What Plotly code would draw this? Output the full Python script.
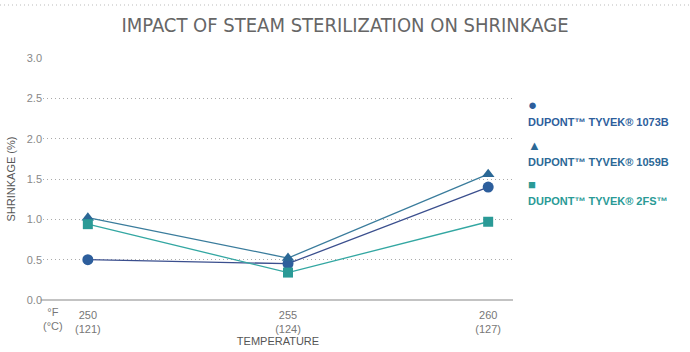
import plotly.graph_objects as go

temps_f = [250, 255, 260]
temps_c = [121, 124, 127]
series_names = ["DUPONT™ TYVEK® 1073B", "DUPONT™ TYVEK® 1059B", "DUPONT™ TYVEK® 2FS™"]
vals_1073b = [0.50, 0.45, 1.40]
vals_1059b = [1.02, 0.52, 1.56]
vals_2fs = [0.94, 0.34, 0.97]
y_ticks = [0.0, 0.5, 1.0, 1.5, 2.0, 2.5, 3.0]

marker_colors = ["#2d5e9c", "#2b6896", "#2a9a96"]
line_colors = ["#3b4f8e", "#3a7c9c", "#33a7a2"]
symbols = ["circle", "triangle-up", "square"]
glyphs = ["●", "▲", "■"]
glyph_sizes = [15, 13, 13]
all_vals = [vals_1073b, vals_1059b, vals_2fs]

fig = go.Figure()
for name, vals, mc, lc, sym in zip(series_names, all_vals, marker_colors, line_colors, symbols):
    fig.add_trace(go.Scatter(
        x=temps_f, y=vals, mode="lines+markers", name=name,
        line=dict(color=lc, width=1.3),
        marker=dict(symbol=sym, size=11 if sym != "square" else 10, color=mc),
        showlegend=False,
    ))

L, R, T, B = 43, 177, 58, 52
W, H = 690, 352
ph = H - T - B
pw = W - L - R

fig.update_layout(
    width=W, height=H,
    margin=dict(l=L, r=R, t=T, b=B, autoexpand=False),
    paper_bgcolor="white", plot_bgcolor="white",
    font=dict(family="Liberation Sans, Arial, sans-serif", color="#777", size=11),
    title=dict(text="IMPACT OF STEAM STERILIZATION ON SHRINKAGE",
               font=dict(family="Liberation Sans Narrow, DejaVu Sans Condensed, Liberation Sans, sans-serif", size=20, color="#666"),
               x=0.5, xref="container", xanchor="center", y=1 - 25 / H, yanchor="middle"),
    xaxis=dict(
        range=[248.88, 260.62], tickmode="array", tickvals=temps_f,
        ticktext=[f"{f}<br>({c})" for f, c in zip(temps_f, temps_c)],
        showgrid=False, zeroline=False, showline=False, ticks="",
        ticklabelstandoff=7, automargin=False,
        tickfont=dict(size=11, color="#777"),
        title=dict(text="TEMPERATURE", font=dict(size=11, color="#555"), standoff=3),
    ),
    yaxis=dict(
        range=[0, 3.0], tickmode="array", tickvals=y_ticks,
        ticktext=[f"{v:.1f}" for v in y_ticks],
        showgrid=True, gridcolor="#aaaaaa", griddash="1px,3px", gridwidth=1,
        zeroline=False, showline=False, ticks="", automargin=False,
        tickfont=dict(size=11, color="#888"),
        title=dict(text="SHRINKAGE (%)", font=dict(size=11, color="#555"), standoff=8),
    ),
)

# baseline axis line
fig.add_shape(type="line", xref="paper", yref="paper", x0=-0.005, x1=1, y0=0, y1=0,
              line=dict(color="#888", width=1.2))
# top dotted rule
fig.add_shape(type="line", xref="paper", yref="paper", x0=-L / pw, x1=1 + R / pw,
              y0=1 + (T - 5) / ph, y1=1 + (T - 5) / ph,
              line=dict(color="#bbb", width=1, dash="1px,3px"))
# °F / (°C) label
fig.add_annotation(text="°F<br>(°C)", xref="paper", yref="paper",
                   x=(53 - L) / pw, y=0, yanchor="top", xanchor="center",
                   yshift=-4, showarrow=False, font=dict(size=11, color="#777"))

# custom legend: marker above text
leg_x = (526 - L) / pw
marker_y = [104, 145, 184]
text_y = [122, 162, 201]
for name, mc, g, gs, my, ty in zip(series_names, marker_colors, glyphs, glyph_sizes, marker_y, text_y):
    fig.add_annotation(text=g, xref="paper", yref="paper", x=leg_x, y=1 - (my - T) / ph,
                       xanchor="left", yanchor="middle", showarrow=False,
                       font=dict(size=gs, color=mc))
    fig.add_annotation(text=f"<b>{name}</b>", xref="paper", yref="paper", x=leg_x, y=1 - (ty - T) / ph,
                       xanchor="left", yanchor="middle", showarrow=False,
                       font=dict(size=11, color=mc))

fig.write_html("out.html")
